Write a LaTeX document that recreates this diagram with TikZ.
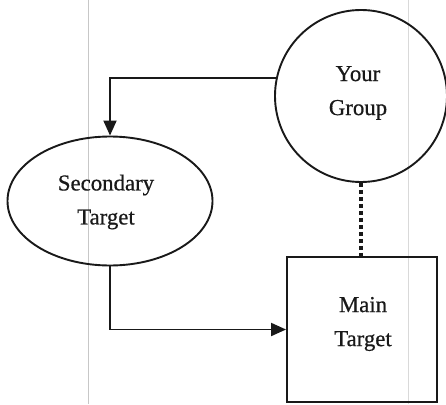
\documentclass[tikz,border=0pt]{standalone}
\usepackage{fontspec}
\setmainfont{Liberation Serif}[FakeBold=0.6]
\usetikzlibrary{arrows.meta,shapes.geometric}
\begin{document}
\begin{tikzpicture}[x=1pt,y=-1pt,
  shapeline/.style={draw=black!90, line width=1.9pt, inner sep=0pt},
  lbl/.style={font=\fontsize{22.8}{34}\selectfont, text=black!90, align=center, inner sep=0pt},
  flow/.style={draw=black!90, line width=1.9pt, -{Triangle[length=15pt,width=13pt]}},
  dotlink/.style={draw=black!90, line width=3.8pt, dash pattern=on 4pt off 3pt},
  scanline/.style={draw=black!22, line width=0.9pt}]
\useasboundingbox (0,0) rectangle (446,404);
\fill[white] (0,0) rectangle (446,404);
\draw[scanline] (88,0) -- (88,404);
\draw[scanline, draw=black!15] (408,0) -- (408,404);
\node[circle, shapeline, minimum size=172pt] (grp) at (361,96) {};
\node[lbl] (grptext) at (358,93) {Your\\Group};
\node[ellipse, shapeline, minimum width=205pt, minimum height=129pt] (sec) at (110,201) {};
\node[lbl] (sectext) at (106,202) {Secondary\\Target};
\node[rectangle, shapeline, minimum width=150pt, minimum height=145pt] (main) at (362,329.5) {};
\node[lbl] (maintext) at (363,324) {Main\\Target};
\draw[flow] (grp.168.6) -| (sec.north);
\draw[flow] (sec.south) |- (main.west);
\draw[dotlink] (grp.south) -- (grp.south |- main.north);
\end{tikzpicture}
\end{document}
